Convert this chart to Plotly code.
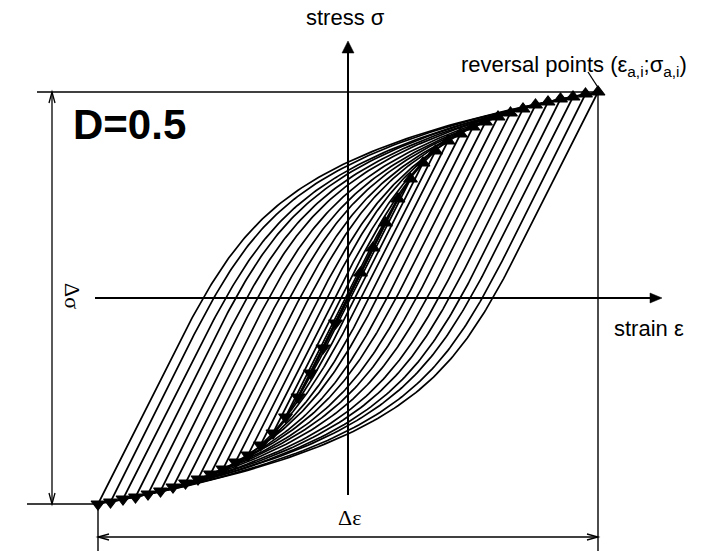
import numpy as np
import plotly.graph_objects as go

# Reversal points of the 20 load blocks (strain amplitude, stress amplitude)
strain_amp = [12.5, 25, 37.5, 50, 62.5, 75, 87.5, 100, 112.5, 125,
              137.5, 150, 162.5, 175, 187.5, 200, 212.5, 225, 237.5, 250]
stress_amp = [25, 50, 75, 99, 119, 135, 147, 157, 164, 171,
              176, 181, 185, 189, 193, 196, 199, 201, 204, 206]

# Ramberg-Osgood shape of the cyclic curve used for the Masing branches
E_mod = 2.0
sig_ref = 135.0
eps_ref = 7.5
n_exp = 0.142

title_text = "D=0.5"
SANS = "Liberation Sans, Arial, sans-serif"
SERIF = "Liberation Serif, Times New Roman, serif"


def ro_strain(s):
    s = np.asarray(s, dtype=float)
    return s / E_mod + eps_ref * (s / sig_ref) ** (1.0 / n_exp)


# Build all hysteresis loops (ascending + descending branch) as one trace
xs, ys = [], []
for ea, sa in zip(strain_amp, stress_amp):
    s = np.linspace(0, 2 * sa, 160)
    scale = ea / ro_strain(sa)
    d_eps = 2 * ro_strain(s / 2) * scale
    # ascending branch from (-ea,-sa) to (ea,sa)
    xs += list(-ea + d_eps) + [None]
    ys += list(-sa + s) + [None]
    # descending branch from (ea,sa) to (-ea,-sa)
    xs += list(ea - d_eps) + [None]
    ys += list(sa - s) + [None]

fig = go.Figure()
fig.add_trace(go.Scatter(x=xs, y=ys, mode="lines",
                         line=dict(color="black", width=1.7),
                         hoverinfo="skip", showlegend=False))
fig.add_trace(go.Scatter(x=strain_amp, y=stress_amp, mode="markers",
                         marker=dict(symbol="triangle-up", size=12, color="black",
                                     line=dict(color="black", width=1.2)),
                         showlegend=False))
fig.add_trace(go.Scatter(x=[-e for e in strain_amp], y=[-s for s in stress_amp],
                         mode="markers",
                         marker=dict(symbol="triangle-down", size=12, color="black",
                                     line=dict(color="black", width=1.2)),
                         showlegend=False))

e_max = strain_amp[-1]
s_max = stress_amp[-1]

shapes = []


def line(x0, y0, x1, y1, w=1.4):
    shapes.append(dict(type="line", x0=x0, y0=y0, x1=x1, y1=y1, xref="x", yref="y",
                       line=dict(color="black", width=w)))


def path(d, fill=True, w=1.3):
    shapes.append(dict(type="path", path=d, xref="x", yref="y",
                       fillcolor="black" if fill else "rgba(0,0,0,0)",
                       line=dict(color="black", width=w)))


# coordinate axes with filled arrowheads
line(-253, 0, 304, 0, 2)
path("M 302,5 L 314,0 L 302,-5 Z", w=0.5)
line(0, -197, 0, 246, 2)
path("M -6,245 L 0,257 L 6,245 Z", w=0.5)

# dimension lines for the stress range
line(-311, s_max, e_max, s_max)
line(-321, -s_max, -e_max, -s_max)
line(-296, s_max, -296, -s_max, 1.3)
path(f"M -299,{s_max-11} L -296,{s_max} L -293,{s_max-11}", fill=False)
path(f"M -299,{-s_max+11} L -296,{-s_max} L -293,{-s_max+11}", fill=False)

# dimension lines for the strain range
line(-e_max, -s_max, -e_max, -253)
line(e_max, s_max, e_max, -253)
line(-e_max, -239, e_max, -239, 1.3)
path(f"M {-e_max+11},-236 L {-e_max},-239 L {-e_max+11},-242", fill=False)
path(f"M {e_max-11},-236 L {e_max},-239 L {e_max-11},-242", fill=False)

# leader to the last reversal point
line(240, 226, e_max + 1, s_max + 3, 1.3)

annotations = [
    dict(x=-3, y=281, text="stress σ", font=dict(size=22)),
    dict(x=301, y=-30, text="strain ε", font=dict(size=22)),
    dict(x=1, y=-219, text="Δε", font=dict(size=22, family=SERIF)),
    dict(x=-275, y=2, text="Δσ", textangle=90, font=dict(size=22, family=SERIF)),
    dict(x=-219, y=174, text=f"<b>{title_text}</b>", font=dict(size=42)),
    dict(x=226, y=232,
         text="reversal points (ε<sub>a,i</sub>;σ<sub>a,i</sub>)",
         font=dict(size=22)),
]
for a in annotations:
    a.update(xref="x", yref="y", showarrow=False, xanchor="center", yanchor="middle")
    a["font"].update(color="black", family=a["font"].get("family", SANS))

fig.update_layout(
    width=728, height=551,
    margin=dict(l=0, r=0, t=0, b=0),
    paper_bgcolor="white", plot_bgcolor="white",
    xaxis=dict(range=[-348, 380], visible=False, fixedrange=True),
    yaxis=dict(range=[-253, 298], visible=False, fixedrange=True),
    shapes=shapes, annotations=annotations,
    font=dict(family=SANS, color="black"),
)

fig.write_html("out.html")
